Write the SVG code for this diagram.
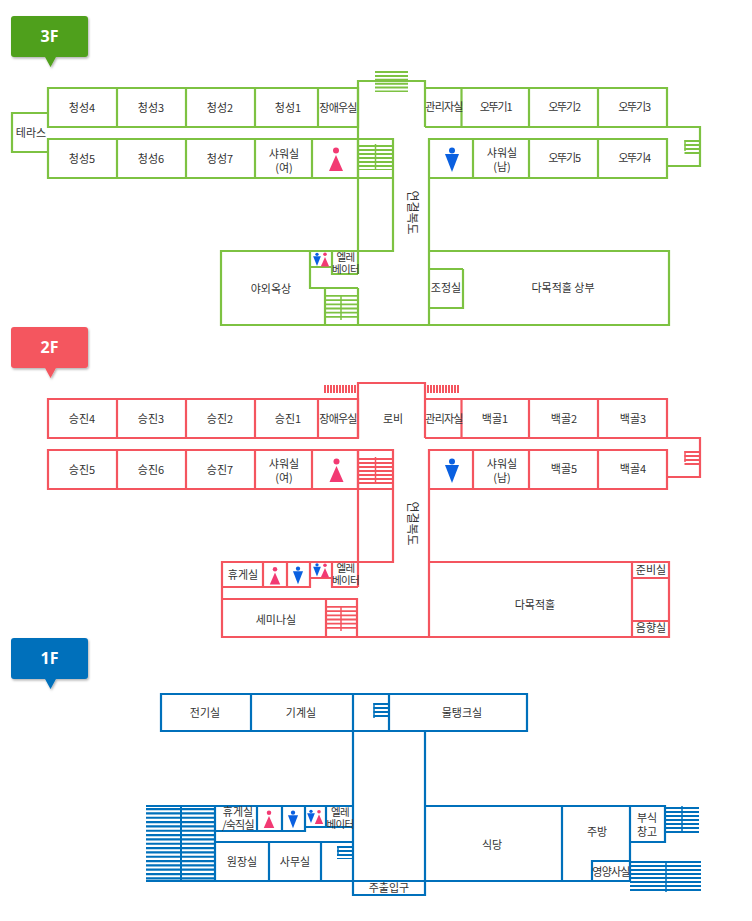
<svg xmlns="http://www.w3.org/2000/svg" width="752" height="921" viewBox="0 0 752 921">
<style>
text{font-family:"Noto Sans CJK KR","Noto Sans",sans-serif;font-size:11px;fill:#333;text-anchor:middle}
.t{letter-spacing:-.8px}
.o{letter-spacing:-1.200px}
.e{font-size:10.500px;letter-spacing:-.6px}
.v{font-size:12px}
.g{fill:none;stroke:#7dc242;stroke-width:2.200}
.r{fill:none;stroke:#f4555f;stroke-width:2.200}
.b{fill:none;stroke:#0070bb;stroke-width:2.200}
.badge text{font-family:"Open Sans","Liberation Sans",sans-serif;font-size:16px;font-weight:700;fill:#fff}
.w{fill:#f23a73}.m{fill:#0a60e0}
</style>
<defs>
<filter id="sh" x="-10%" y="-10%" width="125%" height="125%"><feDropShadow dx="1" dy="1.5" stdDeviation="1" flood-color="#000" flood-opacity=".3"/></filter>
<g id="woman"><circle cx="0" cy="-10.500" r="3"/><path d="M0-6 7 10H-7Z"/></g>
<g id="man"><circle cx="0" cy="-9.500" r="3"/><path d="M-7-6H7L0 12Z"/></g>
</defs>
<g id="badges">
<g id="badge-3f" class="badge"><path filter="url(#sh)" fill="#4fa01a" d="M14 16H85a3 3 0 0 1 3 3V54a3 3 0 0 1-3 3H56L50.500 67 45 57H14a3 3 0 0 1-3-3V19a3 3 0 0 1 3-3Z"/><text x="49.500" y="42">3F</text></g>
<g id="badge-2f" class="badge"><path filter="url(#sh)" fill="#f4565f" d="M14 327H85a3 3 0 0 1 3 3V365a3 3 0 0 1-3 3H56L50.500 378 45 368H14a3 3 0 0 1-3-3V330a3 3 0 0 1 3-3Z"/><text x="49.500" y="353">2F</text></g>
<g id="badge-1f" class="badge"><path filter="url(#sh)" fill="#0070bb" d="M14 638H85a3 3 0 0 1 3 3V676a3 3 0 0 1-3 3H56L50.500 689 45 679H14a3 3 0 0 1-3-3V641a3 3 0 0 1 3-3Z"/><text x="49.500" y="664">1F</text></g>
</g>
<g id="floor-3f">
<g id="walls-3f" class="g">
<path d="M48 88H358V127H48ZM117 88V127M186 88V127M255 88V127M318 88V127"/>
<path d="M48 113H12V152H48M48 139H358V178H48ZM117 139V178M186 139V178M255 139V178M312 139V178"/>
<path d="M358 288V325M358 274V81H425V127M425 88H667V127H425M461.500 88V127M529 88V127M598 88V127M667 127H700V166H667"/>
<path d="M429 325V139H667V178H429M473 139V178M529 139V178M598 139V178"/>
<path d="M358 139H393V251H221V325H669V251H429M358 178H393M463 269H429M463 269V308H429"/>
<path d="M310 251V288H358M310 267H332M332 251V274H358M325 288V325"/>
</g>
<g id="stairs-3f" fill="none" stroke="#7dc242">
<path stroke-width="33" stroke-dasharray="2 1.900" d="M391.500 71V92"/>
<path stroke-width="35" stroke-dasharray="2 2" d="M375.500 145V170"/><path stroke-width="1.500" d="M375.500 144V169"/>
<path stroke-width="33" stroke-dasharray="1.800 2.400" d="M341.500 295V320"/><path stroke-width="1.500" d="M341 295V320"/>
<path stroke-width="15" stroke-dasharray="2 2" d="M692 140V154"/><path stroke-width="1.500" d="M685 140V151"/>
</g>
<g id="labels-3f">
<text x="82" y="112">청성4</text><text x="151" y="112">청성3</text><text x="220" y="112">청성2</text><text x="288" y="112">청성1</text><text class="t" x="338" y="112">장애우실</text>
<text x="31" y="137">테라스</text>
<text x="82" y="163">청성5</text><text x="151" y="163">청성6</text><text x="220" y="163">청성7</text><text x="284" y="158">샤워실</text><text x="284" y="172">(여)</text>
<text class="t" x="444" y="111">관리자실</text><text class="o" x="495.500" y="111">오뚜기1</text><text class="o" x="564" y="111">오뚜기2</text><text class="o" x="634" y="111">오뚜기3</text>
<text x="502" y="157">샤워실</text><text x="502" y="171">(남)</text><text class="o" x="564" y="162">오뚜기5</text><text class="o" x="634" y="162">오뚜기4</text>
<text class="v" transform="translate(412 212.500) rotate(90)" y="4">연결복도</text>
<text class="e" x="345.500" y="261">엘레</text><text class="e" x="345.500" y="272.500">베이터</text>
<text x="271" y="293">야외옥상</text><text x="446" y="292">조정실</text><text x="563" y="292">다목적홀 상부</text>
</g>
<g id="icons-3f">
<use href="#woman" class="w" x="336" y="161"/><use href="#man" class="m" x="452" y="160"/>
<use href="#man" class="m" transform="translate(317 259.500) scale(.55)"/><use href="#woman" class="w" transform="translate(325 260.500) scale(.6)"/>
</g>
</g>
<g id="floor-2f">
<g id="walls-2f" class="r">
<path d="M48 399H358V438H48ZM117 399V438M186 399V438M255 399V438M318 399V438"/>
<path d="M48 450H358V489H48ZM117 450V489M186 450V489M255 450V489M312 450V489"/>
<path d="M358 438V383H425V438M425 399H667V438H425M461.500 399V438M529 399V438M598 399V438M667 438H700V477H667"/>
<path d="M429 637V450H667V489H429M473 450V489M529 450V489M598 450V489"/>
<path d="M358 587V450H393V562H222V637H669V562H429M358 489H393"/>
<path d="M263 562V587M287 562V587M222 587H310V562M310 578H332M332 562V587H358M222 599H357V637M326 599V637"/>
<path d="M632 562V637M632 578H669M632 621H669"/>
</g>
<g id="stairs-2f" fill="none" stroke="#f4555f">
<path stroke-width="8" stroke-dasharray="2 1" d="M324 389H356M427 389H460"/>
<path stroke-width="35" stroke-dasharray="2 2" d="M375.500 458V484"/><path stroke-width="1.500" d="M375.500 457V484"/>
<path stroke-width="31" stroke-dasharray="1.800 2.400" d="M341.500 606V631"/><path stroke-width="1.500" d="M341 606V631"/>
<path stroke-width="15" stroke-dasharray="2 2" d="M692 451V465"/><path stroke-width="1.500" d="M685 451V462"/>
</g>
<g id="labels-2f">
<text x="82" y="423">승진4</text><text x="151" y="423">승진3</text><text x="220" y="423">승진2</text><text x="288" y="423">승진1</text><text class="t" x="338" y="423">장애우실</text><text x="393" y="423">로비</text>
<text x="82" y="474">승진5</text><text x="151" y="474">승진6</text><text x="220" y="474">승진7</text><text x="284" y="468">샤워실</text><text x="284" y="482">(여)</text>
<text class="t" x="444" y="423">관리자실</text><text x="495" y="423">백골1</text><text x="564" y="423">백골2</text><text x="633" y="423">백골3</text>
<text x="502" y="468">샤워실</text><text x="502" y="482">(남)</text><text x="564" y="473">백골5</text><text x="633" y="473">백골4</text>
<text class="v" transform="translate(412 523.500) rotate(90)" y="4">연결복도</text>
<text x="243" y="579">휴게실</text><text class="e" x="345.500" y="572">엘레</text><text class="e" x="345.500" y="583.500">베이터</text>
<text x="276" y="624">세미나실</text><text x="535" y="609">다목적홀</text><text x="651" y="574">준비실</text><text x="651" y="632">음향실</text>
</g>
<g id="icons-2f">
<use href="#woman" class="w" x="336.500" y="472"/><use href="#man" class="m" x="452" y="471"/>
<use href="#woman" class="w" transform="translate(275 577) scale(.75)"/><use href="#man" class="m" transform="translate(298 575.500) scale(.72)"/>
<use href="#man" class="m" transform="translate(317 570) scale(.55)"/><use href="#woman" class="w" transform="translate(325 571.500) scale(.6)"/>
</g>
</g>
<g id="floor-1f">
<g id="walls-1f" class="b">
<path d="M161 694H527V731H161ZM251 694V731M353 694V731M389 694V731"/>
<path d="M353 731V895H425V731M146 806H353M425 806H665V842H630M146 881H630M562 806V881M630 806V881M592 881V861H630"/>
<path d="M215 806V881M257 806V831M282 806V831M215 831H305V806M305 827H353M326 806V827M215 842H353M269 842V881M321 842V881"/>
</g>
<g id="stairs-1f" fill="none" stroke="#0070bb">
<path stroke-width="68" stroke-dasharray="2.200 2.130" d="M180 808V880"/><path stroke-width="2" d="M181 806V881"/>
<path stroke-width="34" stroke-dasharray="2 2" d="M682 807V833"/><path stroke-width="1.500" d="M682 806V832"/>
<path stroke-width="71" stroke-dasharray="2 2" d="M665.500 861V892"/><path stroke-width="1.500" d="M666 861V892"/>
<path stroke-width="16" stroke-dasharray="2 2" d="M345 846V859"/><path stroke-width="1.500" d="M338 846V856"/>
<path stroke-width="15" stroke-dasharray="2 2" d="M381 703V719"/><path stroke-width="1.500" d="M374 703V718"/>
</g>
<g id="labels-1f">
<text x="205" y="717">전기실</text><text x="301" y="717">기계실</text><text x="462" y="717">물탱크실</text>
<text x="238" y="816">휴게실</text><text x="238" y="828.500" class="t">/숙직실</text><text class="e" x="340" y="816">엘레</text><text class="e" x="340" y="827.500">베이터</text>
<text x="242" y="866">원장실</text><text x="295" y="866">사무실</text><text x="389" y="892">주출입구</text>
<text x="492" y="849">식당</text><text x="597" y="836">주방</text><text x="647" y="822">부식</text><text x="647" y="836">창고</text><text class="t" x="611" y="876">영양사실</text>
</g>
<g id="icons-1f">
<use href="#woman" class="w" transform="translate(269 820.500) scale(.75)"/><use href="#man" class="m" transform="translate(293 819.500) scale(.72)"/>
<use href="#man" class="m" transform="translate(311 816.500) scale(.55)"/><use href="#woman" class="w" transform="translate(319 818) scale(.6)"/>
</g>
</g>
</svg>
